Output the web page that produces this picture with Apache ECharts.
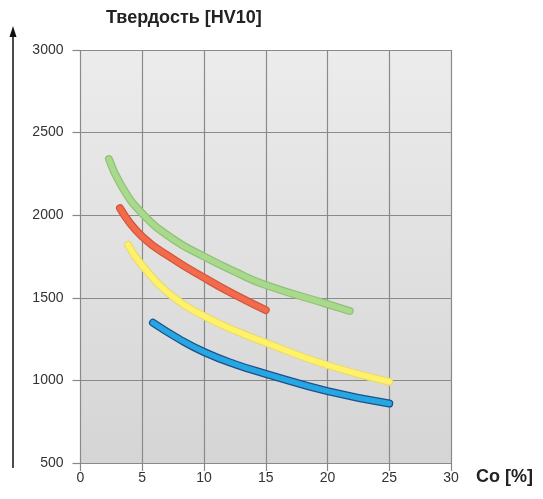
<!DOCTYPE html>
<html><head><meta charset="utf-8">
<script src="https://cdn.jsdelivr.net/npm/echarts@6/dist/echarts.min.js"></script>
<style>html,body{margin:0;padding:0;background:#fff}#c{width:543px;height:499px}</style>
</head><body><div id="c"></div>
<script>
const xTicks = [0, 5, 10, 15, 20, 25, 30];
const yTicks = [500, 1000, 1500, 2000, 2500, 3000];
const greenX = [2.3, 3.3, 5, 7.5, 10, 12.5, 15, 20, 21.8];
const greenY = [2340, 2180, 2010, 1855, 1750, 1658, 1577, 1462, 1420];
const redX = [3.2, 5, 7.5, 10, 12.5, 15];
const redY = [2042, 1870, 1735, 1622, 1518, 1426];
const yellowX = [3.85, 5, 7.5, 10, 12.5, 15, 20, 25];
const yellowY = [1820, 1695, 1505, 1390, 1302, 1228, 1092, 992];
const blueX = [5.87, 8, 10, 12.5, 15, 20, 25];
const blueY = [1349, 1250, 1172, 1098, 1040, 935, 860];

const curves = [
  {x: greenX, y: greenY, fill: '#a9d98c', edge: '#8fc272'},
  {x: redX, y: redY, fill: '#f26b4c', edge: '#d4553a'},
  {x: yellowX, y: yellowY, fill: '#fff26a', edge: '#e6dc72'},
  {x: blueX, y: blueY, fill: '#26a7e1', edge: '#1d4f8c'}
];
const series = [];
curves.forEach(c => {
  const d = c.x.map((v, i) => [v, c.y[i]]);
  series.push({type: 'line', data: d, smooth: 0.5, symbol: 'none', silent: true,
    lineStyle: {width: 8, color: c.edge, cap: 'round'}});
  series.push({type: 'line', data: d, smooth: 0.5, symbol: 'none', silent: true,
    lineStyle: {width: 5.5, color: c.fill, cap: 'round'}});
});

const chart = echarts.init(document.getElementById('c'));
chart.setOption({
  animation: false,
  grid: {left: 80.5, right: 92, top: 50, bottom: 36, show: true, borderWidth: 0,
    backgroundColor: new echarts.graphic.LinearGradient(0, 0, 0, 1, [
      {offset: 0, color: '#ececec'}, {offset: 1, color: '#d5d5d5'}])},
  xAxis: {type: 'value', min: 0, max: 30, interval: 5,
    axisLine: {show: false},
    axisTick: {show: true, length: 8, lineStyle: {color: '#888', width: 1.2}},
    splitLine: {show: true, lineStyle: {color: '#8a8a8a', width: 1.2}},
    axisLabel: {color: '#333', fontSize: 14, fontFamily: 'Liberation Sans', margin: 8,
      formatter: v => xTicks.includes(v) ? String(v) : ''}},
  yAxis: {type: 'value', min: 500, max: 3000, interval: 500,
    axisLine: {show: false},
    axisTick: {show: true, length: 8, lineStyle: {color: '#888', width: 1.2}},
    splitLine: {show: true, lineStyle: {color: '#8a8a8a', width: 1.2}},
    axisLabel: {color: '#333', fontSize: 14, fontFamily: 'Liberation Sans', margin: 17,
      formatter: v => yTicks.includes(v) ? String(v) : ''}},
  graphic: [
    {type: 'line', shape: {x1: 13, y1: 468, x2: 13, y2: 34}, style: {stroke: '#111', lineWidth: 1.5}},
    {type: 'polygon', shape: {points: [[13, 26], [9.5, 37], [16.5, 37]]}, style: {fill: '#111'}},
    {type: 'text', left: 106, top: 9, style: {text: 'Твердость [HV10]', font: 'bold 18px "Liberation Sans"', fill: '#222'}},
    {type: 'text', left: 476, top: 468, style: {text: 'Co [%]', font: 'bold 18px "Liberation Sans"', fill: '#222'}}
  ],
  series: series
});
</script></body></html>
